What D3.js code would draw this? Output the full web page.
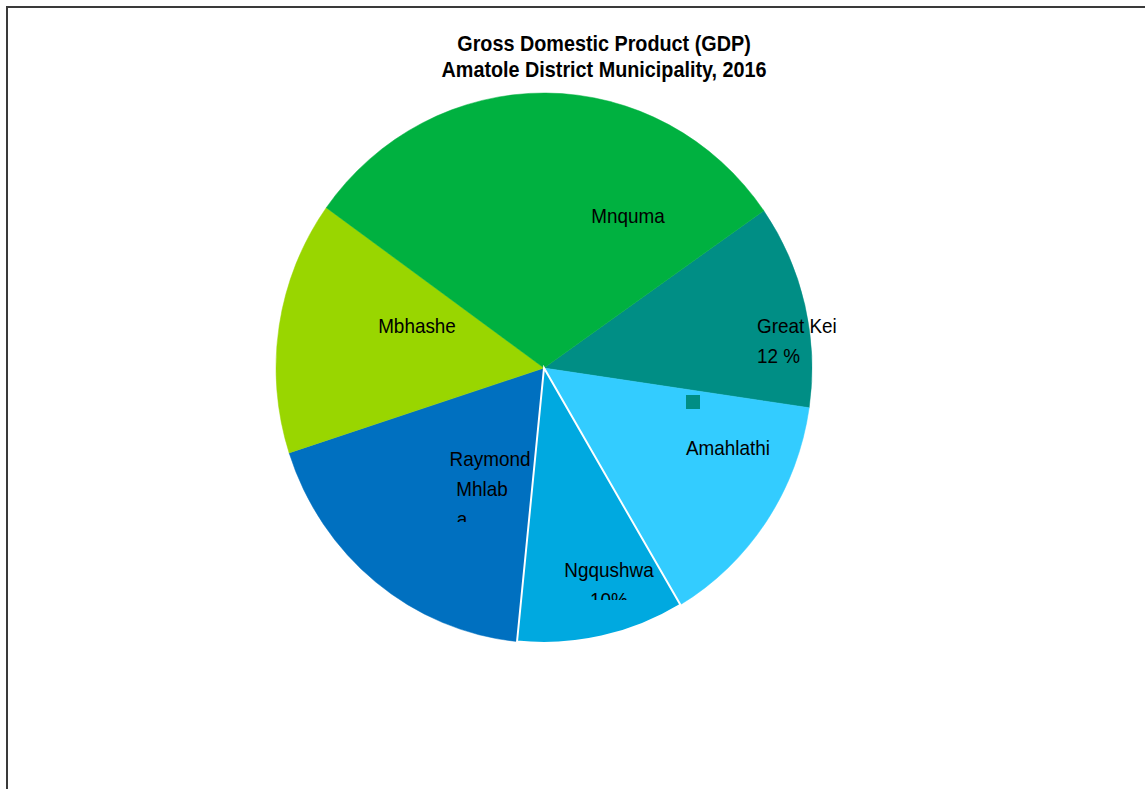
<!DOCTYPE html>
<html>
<head>
<meta charset="utf-8">
<script src="https://cdn.jsdelivr.net/npm/d3@7"></script>
<style>
  body { margin: 0; background: #fff; }
  text { font-family: "Liberation Sans", Arial, sans-serif; fill: #000; }
</style>
</head>
<body>
<svg id="chart"></svg>
<script>
// data
var municipalities = ["Great Kei", "Amahlathi", "Ngqushwa", "Raymond Mhlaba", "Mbhashe", "Mnquma"];
var gdpShare = [12.0, 14.2, 10.1, 18.4, 14.9, 30.4];
var sliceColors = ["#008E85", "#33CCFF", "#00A9E0", "#0070C0", "#99D600", "#00B140"];
var labelLines = [["Great Kei", "12 %"], ["Amahlathi"], ["Ngqushwa", "10%"], ["Raymond", "Mhlab", "a"], ["Mbhashe"], ["Mnquma"]];
var titleLines = ["Gross Domestic Product (GDP)", "Amatole District Municipality, 2016"];

width = 1145;
height = 789;
cx = 544;
cy = 368;
radius = 275;
squeeze = 0.9745;   // pie is a touch narrower than tall
textSqueeze = 0.9;

// label layout, relative to pie centre: per line [x, baseline], anchor, clip bottom
labelLayout = [
    { anchor: "start", lines: [[213, -35], [213, -5]] },
    { anchor: "middle", lines: [[184, 87]] },
    { anchor: "middle", lines: [[65, 209], [65, 239]], clip: 232 },
    { anchor: "middle", lines: [[-54, 98], [-62, 128], [-82, 158]], clip: 154 },
    { anchor: "middle", lines: [[-127, -35]] },
    { anchor: "middle", lines: [[84, -145]] }
];

svg = d3.select("#chart")
    .attr("width", width)
    .attr("height", height);

// frame (only top and left edges show)
svg.append("rect")
    .attr("x", 7).attr("y", 7)
    .attr("width", width + 50).attr("height", height + 50)
    .attr("fill", "none")
    .attr("stroke", "#3a3a3a")
    .attr("stroke-width", 2);

// title
svg.append("g")
    .selectAll("text")
    .data(titleLines)
    .enter().append("text")
        .attr("transform", (d, i) => "translate(604," + (51 + i * 26) + ") scale(" + textSqueeze + ",1)")
        .attr("text-anchor", "middle")
        .style("font-size", "22px")
        .style("font-weight", "bold")
        .text(d => d);

pie = d3.pie()
    .sort(null)
    .startAngle(55.1 * Math.PI / 180)
    .endAngle(55.1 * Math.PI / 180 + 2 * Math.PI)
    .value(d => d);

arc = d3.arc().innerRadius(0).outerRadius(radius);

arcs = pie(gdpShare);

pieG = svg.append("g")
    .attr("transform", "translate(" + cx + "," + cy + ") scale(" + squeeze + ",1)");

// draw Ngqushwa last so its white edges sit on top
order = [0, 1, 3, 4, 5, 2];
pieG.selectAll("path")
    .data(order.map(i => ({ a: arcs[i], i: i })))
    .enter().append("path")
        .attr("d", d => arc(d.a))
        .attr("fill", d => sliceColors[d.i])
        .attr("stroke", d => d.i == 2 ? "#fff" : sliceColors[d.i])
        .attr("stroke-width", d => d.i == 2 ? 2 : 0.5);

// stray legend key
svg.append("rect")
    .attr("x", cx + 142).attr("y", cy + 27)
    .attr("width", 14).attr("height", 14)
    .attr("fill", sliceColors[0]);

// labels
defs = svg.append("defs");
labelG = svg.append("g").attr("transform", "translate(" + cx + "," + cy + ")");
labelLayout.forEach(function(lay, i) {
    var g = labelG.append("g");
    if (lay.clip !== undefined) {
        defs.append("clipPath").attr("id", "clip" + i)
            .append("rect")
            .attr("x", -300).attr("y", -300)
            .attr("width", 600).attr("height", lay.clip + 300);
        g.attr("clip-path", "url(#clip" + i + ")");
    }
    g.selectAll("text")
        .data(labelLines[i])
        .enter().append("text")
            .attr("transform", (d, j) => "translate(" + lay.lines[j][0] + "," + lay.lines[j][1] + ") scale(" + textSqueeze + ",1)")
            .attr("text-anchor", lay.anchor)
            .style("font-size", "21px")
            .text(d => d);
});
</script>
</body>
</html>
